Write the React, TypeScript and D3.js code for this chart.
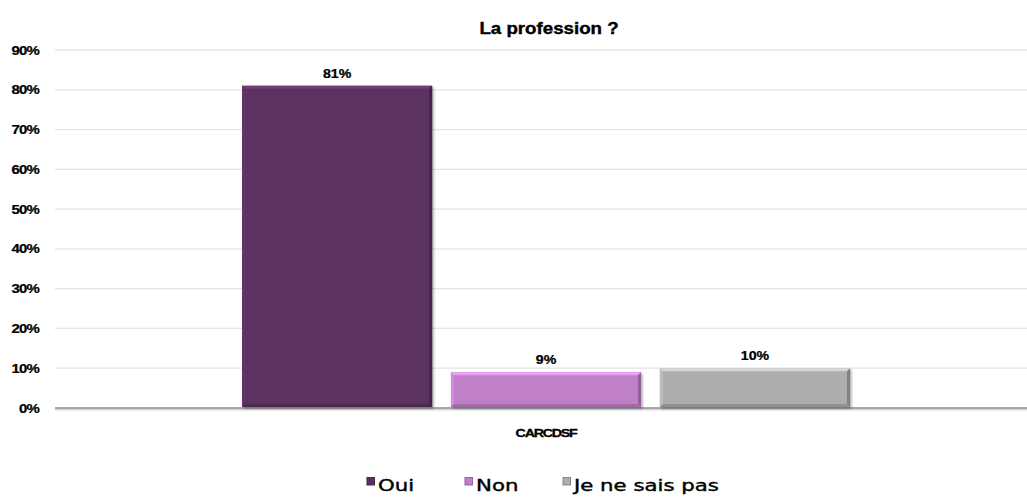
import React from "react";
import * as d3 from "d3";

const title = "La profession ?";
const categories = ["CARCDSF"];
const seriesNames = ["Oui", "Non", "Je ne sais pas"];
const seriesValues = [81, 9, 10];
const seriesColors = ["#5b3060", "#c080c8", "#adadad"];
const yTicks = [0, 10, 20, 30, 40, 50, 60, 70, 80, 90];

const W = 1027;
const H = 497;
const plotLeft = 55;
const plotRight = 1037;
const plotTop = 50;
const plotBottom = 408;

function shade(c: string, k: number) {
  const col = d3.color(c)!;
  return k > 0 ? col.brighter(k).formatHex() : col.darker(-k).formatHex();
}

function SText(props: {
  x: number;
  y: number;
  sx: number;
  anchor?: string;
  size: number;
  family?: string;
  bold?: boolean;
  stroke?: number;
  ls?: number;
  children: React.ReactNode;
}) {
  return (
    <g transform={`translate(${props.x},${props.y}) scale(${props.sx},1)`}>
      <text
        x={0}
        y={0}
        textAnchor={props.anchor || "start"}
        fontFamily={props.family || "'Liberation Sans', Arial, sans-serif"}
        fontWeight={props.bold ? "bold" : "normal"}
        fontSize={props.size}
        letterSpacing={props.ls || 0}
        stroke="#000"
        strokeWidth={props.stroke || 0}
        fill="#000"
      >
        {props.children}
      </text>
    </g>
  );
}

export default function App() {
  const y = d3.scaleLinear().domain([0, 90]).range([plotBottom, plotTop]);
  const x0 = d3
    .scaleBand<string>()
    .domain(categories)
    .range([plotLeft, plotRight])
    .paddingInner(0)
    .paddingOuter(0.3076);
  const x1 = d3
    .scaleBand<string>()
    .domain(seriesNames)
    .range([0, x0.bandwidth()])
    .paddingInner(0.09);

  const b = 3;
  const legendX = [367, 465, 563];
  return (
    <svg width={W} height={H} style={{ position: "absolute", left: 0, top: 0 }}>
      <defs>
        <filter id="sh" x="-5%" y="-5%" width="115%" height="115%">
          <feDropShadow dx="1.5" dy="1.5" stdDeviation="1.2" floodColor="#000" floodOpacity="0.35" />
        </filter>
      </defs>
      <rect width={W} height={H} fill="#fff" />
      <SText x={549} y={34} sx={1.1} anchor="middle" size={17} bold stroke={0.4}>
        {title}
      </SText>
      {yTicks.map((t) => (
        <g key={t}>
          {t > 0 && (
            <line x1={plotLeft} x2={W} y1={y(t)} y2={y(t)} stroke="#e3e3e3" strokeWidth={1.3} />
          )}
          <SText x={39} y={y(t) + 4.5} sx={1.15} anchor="end" size={13} bold stroke={0.25} ls={-0.7}>
            {t}%
          </SText>
        </g>
      ))}
      <line x1={plotLeft} x2={W} y1={plotBottom + 1.5} y2={plotBottom + 1.5} stroke="#d6d6d6" strokeWidth={2} />
      <line x1={plotLeft} x2={W} y1={plotBottom} y2={plotBottom} stroke="#8c8c8c" strokeWidth={1.3} />
      {categories.map((cat) => (
        <g key={cat}>
          {seriesNames.map((s, i) => {
            const bx = x0(cat)! + x1(s)!;
            const bw = x1.bandwidth();
            const top = y(seriesValues[i]);
            const bot = plotBottom - 1;
            const c = seriesColors[i];
            return (
              <g key={s}>
                <rect x={bx} y={top} width={bw} height={bot - top} fill={c} filter="url(#sh)" />
                <polygon
                  points={`${bx},${top} ${bx + bw},${top} ${bx + bw - b},${top + b} ${bx + b},${top + b}`}
                  fill={shade(c, 0.6)}
                />
                <polygon
                  points={`${bx},${top} ${bx + b},${top + b} ${bx + b},${bot - b} ${bx},${bot}`}
                  fill={shade(c, 0.25)}
                />
                <polygon
                  points={`${bx + bw},${top} ${bx + bw},${bot} ${bx + bw - b},${bot - b} ${bx + bw - b},${top + b}`}
                  fill={shade(c, -0.8)}
                />
                <polygon
                  points={`${bx},${bot} ${bx + bw},${bot} ${bx + bw - b},${bot - b} ${bx + b},${bot - b}`}
                  fill={shade(c, -0.5)}
                />
                <SText x={bx + bw / 2} y={top - 8} sx={1.18} anchor="middle" size={12} bold stroke={0.25}>
                  {seriesValues[i]}%
                </SText>
              </g>
            );
          })}
          <SText x={x0(cat)! + x0.bandwidth() / 2} y={437} sx={1.3} anchor="middle" size={11} bold stroke={0.3} ls={-1}>
            {cat}
          </SText>
        </g>
      ))}
      {seriesNames.map((s, i) => {
        const lx = legendX[i];
        return (
          <g key={s}>
            <rect x={lx} y={477.5} width={7.5} height={7.5} fill={seriesColors[i]} stroke={shade(seriesColors[i], -0.7)} strokeWidth={1} />
            <SText x={lx + 11} y={491} sx={1.33} size={16} family="'DejaVu Sans', Verdana, sans-serif" stroke={0.4}>
              {s}
            </SText>
          </g>
        );
      })}
    </svg>
  );
}
